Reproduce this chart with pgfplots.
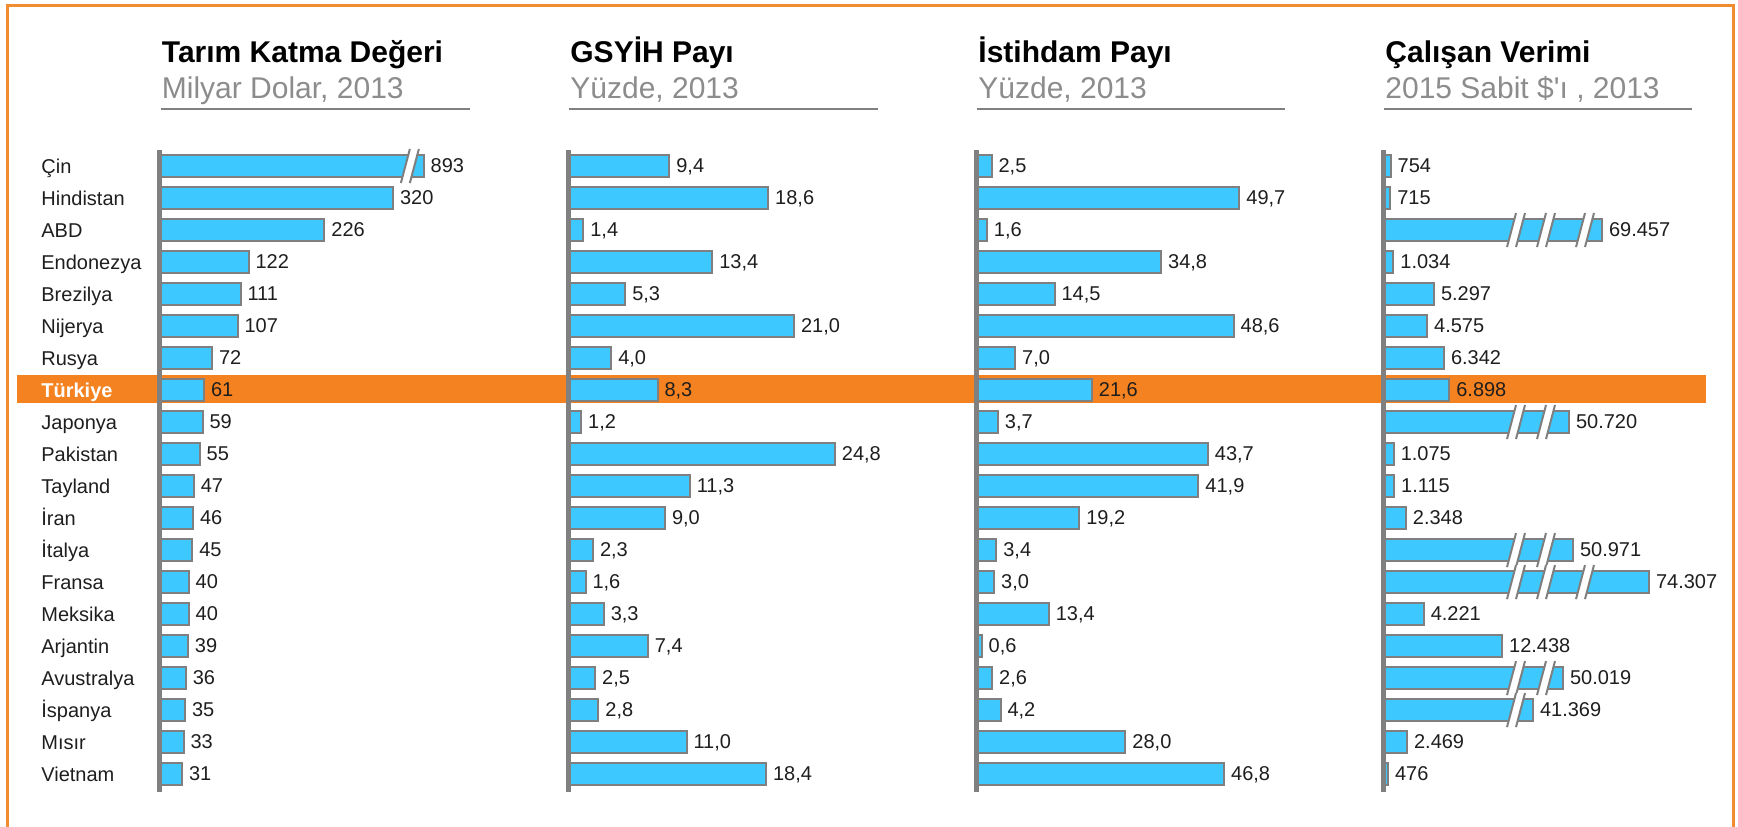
\documentclass[border=0pt]{standalone}
\usepackage{fontspec}
\setmainfont{Liberation Sans}[Ligatures=TeXOff]
\usepackage{pgfplots}
\usepackage{pgfplotstable}
\pgfplotsset{compat=1.18}

\definecolor{barfill}{HTML}{3DC9FF}
\definecolor{barline}{HTML}{7F7F7F}
\definecolor{axgray}{HTML}{808080}
\definecolor{subgray}{HTML}{8C8C8C}
\definecolor{hl}{HTML}{F58220}
\definecolor{frameor}{HTML}{F28C30}
\definecolor{txt}{HTML}{1E1E1E}

% i = row, v = value, d = drawn length (shortened for broken bars)
\pgfplotstableread{
i v d
0 893 362
1 320 320
2 226 226
3 122 122
4 111 111
5 107 107
6 72 72
7 61 61
8 59 59
9 55 55
10 47 47
11 46 46
12 45 45
13 40 40
14 40 40
15 39 39
16 36 36
17 35 35
18 33 33
19 31 31
}\tabA

\pgfplotstableread{
i v d
0 9.4 9.4
1 18.6 18.6
2 1.4 1.4
3 13.4 13.4
4 5.3 5.3
5 21.0 21.0
6 4.0 4.0
7 8.3 8.3
8 1.2 1.2
9 24.8 24.8
10 11.3 11.3
11 9.0 9.0
12 2.3 2.3
13 1.6 1.6
14 3.3 3.3
15 7.4 7.4
16 2.5 2.5
17 2.8 2.8
18 11.0 11.0
19 18.4 18.4
}\tabB

\pgfplotstableread{
i v d
0 2.5 2.5
1 49.7 49.7
2 1.6 1.6
3 34.8 34.8
4 14.5 14.5
5 48.6 48.6
6 7.0 7.0
7 21.6 21.6
8 3.7 3.7
9 43.7 43.7
10 41.9 41.9
11 19.2 19.2
12 3.4 3.4
13 3.0 3.0
14 13.4 13.4
15 0.6 0.6
16 2.6 2.6
17 4.2 4.2
18 28.0 28.0
19 46.8 46.8
}\tabC

\pgfplotstableread{
i v d
0 754 754
1 715 715
2 69457 22904
3 1034 1034
4 5297 5297
5 4575 4575
6 6342 6342
7 6898 6898
8 50720 19444
9 1075 1075
10 1115 1115
11 2348 2348
12 50971 19864
13 74307 27830
14 4221 4221
15 12438 12438
16 50019 18816
17 41369 15671
18 2469 2469
19 476 476
}\tabD

\newcommand{\brk}[2]{%
  \fill[white] ([shift={(-4.5pt,-8.5pt)}]axis cs:#1,#2) -- ([shift={(0pt,8.5pt)}]axis cs:#1,#2) -- ([shift={(4.5pt,8.5pt)}]axis cs:#1,#2) -- ([shift={(0pt,-8.5pt)}]axis cs:#1,#2) -- cycle;
  \draw[barline, line width=1pt] ([shift={(-4.5pt,-8.5pt)}]axis cs:#1,#2) -- ([shift={(0pt,8.5pt)}]axis cs:#1,#2);
  \draw[barline, line width=1pt] ([shift={(0pt,-8.5pt)}]axis cs:#1,#2) -- ([shift={(4.5pt,8.5pt)}]axis cs:#1,#2);
}

\pgfplotsset{
  panel/.style={
    scale only axis, width=155pt, height=321pt,
    anchor=south west,
    y dir=reverse, ymin=-0.5, ymax=19.56,
    axis x line=none, axis y line*=left,
    axis line style={draw=axgray, line width=2.5pt},
    ytick=\empty,
    major tick length=0pt,
    clip=false, axis on top,
    nodes near coords,
    point meta=explicit,
    nodes near coords style={anchor=base west, inner sep=0pt, xshift=3pt, yshift=-3.25pt,
      font=\fontsize{10}{12}\selectfont, text=txt},
    /pgf/number format/assume math mode=true,
  },
  barsty/.style={xbar, bar width=0.7, fill=barfill, draw=barline, line width=1pt},
}

\begin{document}
\begin{tikzpicture}
\begin{scope}[x=0.5pt,y=-0.5pt]
\useasboundingbox (0,0) rectangle (1738,826);
\draw[frameor, line width=1.5pt] (7.3,840) -- (7.3,5) -- (1733,5) -- (1733,840);
\fill[hl] (17,375) rectangle (1706,403);
% titles
\tikzset{ttl/.style={anchor=base west, inner sep=0pt, font=\fontsize{15}{18}\selectfont\bfseries, text=black},
         sub/.style={anchor=base west, inner sep=0pt, font=\fontsize{15}{18}\selectfont, text=subgray}}
\node[ttl] at (161.5,62) {Tarım Katma Değeri};
\node[sub] at (161.5,98) {Milyar Dolar, 2013};
\draw[axgray, line width=1.25pt] (161,109) -- (470,109);
\node[ttl] at (570,62) {GSYİH Payı};
\node[sub] at (570,98) {Yüzde, 2013};
\draw[axgray, line width=1.25pt] (569,109) -- (878,109);
\node[ttl] at (978,62) {İstihdam Payı};
\node[sub] at (978,98) {Yüzde, 2013};
\draw[axgray, line width=1.25pt] (977,109) -- (1285,109);
\node[ttl] at (1385,62) {Çalışan Verimi};
\node[sub] at (1385,98) {2015 Sabit \$'ı , 2013};
\draw[axgray, line width=1.25pt] (1384,109) -- (1692,109);
\end{scope}

% Panel 1
\begin{axis}[panel, at={(79.75pt,-396pt)},
  xmin=0, xmax=424.7,
  ytick={0,...,19},
  yticklabels={Çin, Hindistan, ABD, Endonezya, Brezilya, Nijerya, Rusya, \textbf{\textcolor{white}{Türkiye}}, Japonya, Pakistan, Tayland, İran, İtalya, Fransa, Meksika, Arjantin, Avustralya, İspanya, Mısır, Vietnam},
  yticklabel style={anchor=base west, inner sep=0pt, xshift=-59.25pt, yshift=-3.5pt,
    font=\fontsize{10}{12}\selectfont, text=txt},
  /pgf/number format/fixed, /pgf/number format/precision=0,
]
\addplot[barsty] table[x=d, y=i, meta=v] {\tabA};
\brk{343}{0}
\end{axis}

% Panel 2
\begin{axis}[panel, at={(284.15pt,-396pt)},
  xmin=0, xmax=28.84,
  /pgf/number format/fixed, /pgf/number format/fixed zerofill, /pgf/number format/precision=1, /pgf/number format/use comma,
]
\addplot[barsty] table[x=d, y=i, meta=v] {\tabB};
\end{axis}

% Panel 3
\begin{axis}[panel, at={(488.35pt,-396pt)},
  xmin=-0.34, xmax=58.71,
  /pgf/number format/fixed, /pgf/number format/fixed zerofill, /pgf/number format/precision=1, /pgf/number format/use comma,
]
\addplot[barsty] table[x=d, y=i, meta=v] {\tabC};
\end{axis}

% Panel 4
\begin{axis}[panel, at={(691.75pt,-396pt)},
  xmin=0, xmax=32495,
  /pgf/number format/fixed, /pgf/number format/precision=0, /pgf/number format/1000 sep={.},
]
\addplot[barsty] table[x=d, y=i, meta=v] {\tabD};
\brk{13889}{2}\brk{17034}{2}\brk{21122}{2}
\brk{13889}{8}\brk{17034}{8}
\brk{13889}{12}\brk{17034}{12}
\brk{13889}{13}\brk{17034}{13}\brk{21122}{13}
\brk{13889}{16}\brk{17034}{16}
\brk{13889}{17}
\end{axis}
\end{tikzpicture}
\end{document}
